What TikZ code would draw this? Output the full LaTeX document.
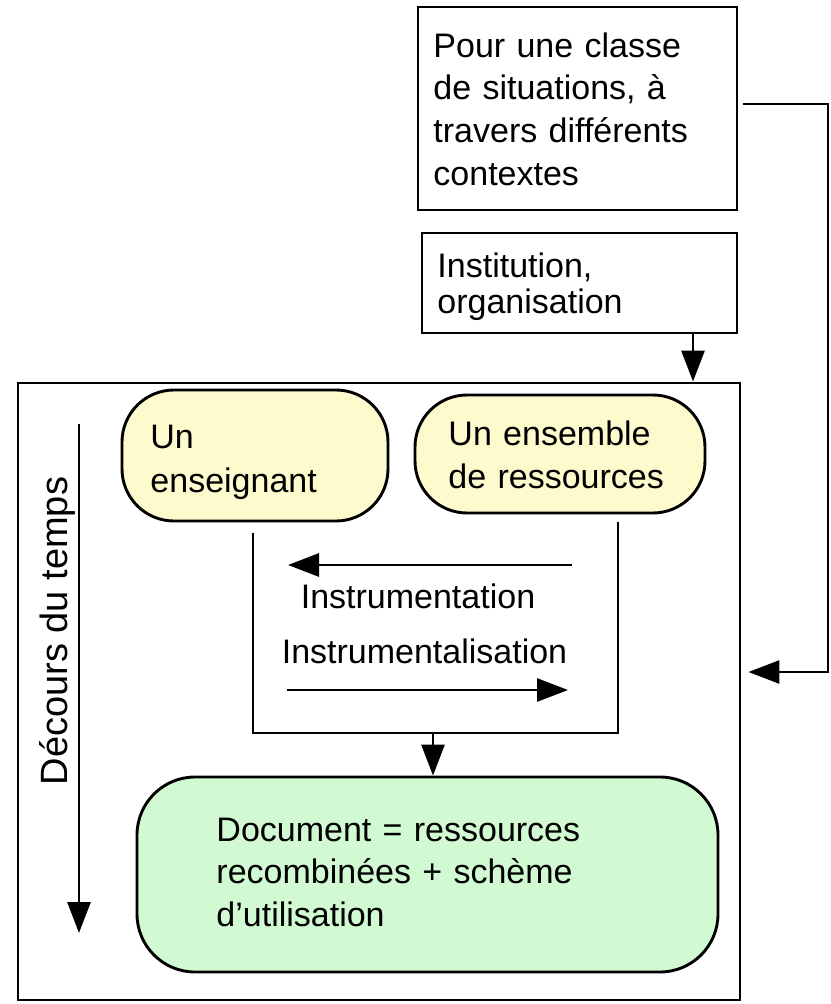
\documentclass[tikz,border=0pt]{standalone}
\usepackage{fontspec}
\setmainfont{Liberation Sans}
\usetikzlibrary{arrows.meta}
\definecolor{boxyellow}{RGB}{253,250,206}
\definecolor{boxgreen}{RGB}{210,250,210}
\begin{document}
\begin{tikzpicture}[x=1pt,y=-1pt,
  line width=2.9pt,
  box/.style={draw, rectangle, inner sep=0pt},
  pill/.style={draw, rectangle, rounded corners=52pt, fill=boxyellow, inner sep=0pt},
  docbox/.style={draw, rectangle, rounded corners=58pt, fill=boxgreen, inner sep=0pt},
  txt/.style={anchor=base west, inner sep=0pt, text width=420pt, align=left},
  ctr/.style={anchor=base, inner sep=0pt},
  arr/.style={-{Triangle[length=31pt,width=23pt]}}
]
\useasboundingbox (0,0) rectangle (830,1004);

% boxes
\node[box, minimum width=319pt, minimum height=203pt] (ctx) at (577.5,108.5) {};
\node[box, minimum width=315pt, minimum height=100pt] (inst) at (579.5,283) {};
\node[box, minimum width=722pt, minimum height=617pt] (main) at (379,691.5) {};
\node[pill, minimum width=266pt, minimum height=131pt] (ens) at (255,455.5) {};
\node[pill, minimum width=290pt, minimum height=118pt] (res) at (560,454) {};
\node[docbox, minimum width=581pt, minimum height=195pt] (doc) at (427.5,874.5) {};

% texts
\node[txt, font=\fontsize{34}{42.7}\selectfont] (ctxt) at (432,57)
  {Pour une classe\\de situations, à\\travers différents\\contextes};
\node[txt, font=\fontsize{34}{36}\selectfont] (instt) at (436,277)
  {Institution,\\organisation};
\node[txt, font=\fontsize{34}{44}\selectfont] (enst) at (149,448)
  {Un\\enseignant};
\node[txt, font=\fontsize{34}{43}\selectfont] (rest) at (447,445)
  {Un ensemble\\de ressources};
\node[txt, font=\fontsize{34}{42.5}\selectfont] (doct) at (215,841)
  {Document = ressources\\recombinées + schème\\d’utilisation};
\node[ctr, font=\fontsize{34}{40}\selectfont] (instru) at (418,608) {Instrumentation};
\node[ctr, font=\fontsize{34}{40}\selectfont] (instal) at (424.5,663) {Instrumentalisation};
\node[ctr, rotate=90, font=\fontsize{38}{44}\selectfont] (temps) at (67,631) {Décours du temps};

% coordinates
\coordinate (c1) at (828,104);
\coordinate (c2) at (828,672);
\coordinate (ia) at (693,0);
\coordinate (bl1) at (253,533);
\coordinate (bl2) at (253,733);
\coordinate (br2) at (618,733);
\coordinate (br1) at (618,522);
\coordinate (da) at (433,733);
\coordinate (t1) at (79,424);
\coordinate (t2) at (79,933);
\coordinate (a1s) at (572,565);
\coordinate (a1e) at (288,565);
\coordinate (a2s) at (287,690);
\coordinate (a2e) at (568,690);

% connectors
\draw[arr, shorten <=5pt, shorten >=7pt] (ctx.east |- c1) -- (c1) -- (c2) -- (main.east |- c2);
\draw[arr] (inst.south -| ia) -- (main.north -| ia);
\draw (bl1) -- (bl2) -- (br2) -- (br1);
\draw[arr] (da) -- (doc.north -| da);
\draw[arr] (a1s) -- (a1e);
\draw[arr] (a2s) -- (a2e);
\draw[arr] (t1) -- (t2);
\end{tikzpicture}
\end{document}
